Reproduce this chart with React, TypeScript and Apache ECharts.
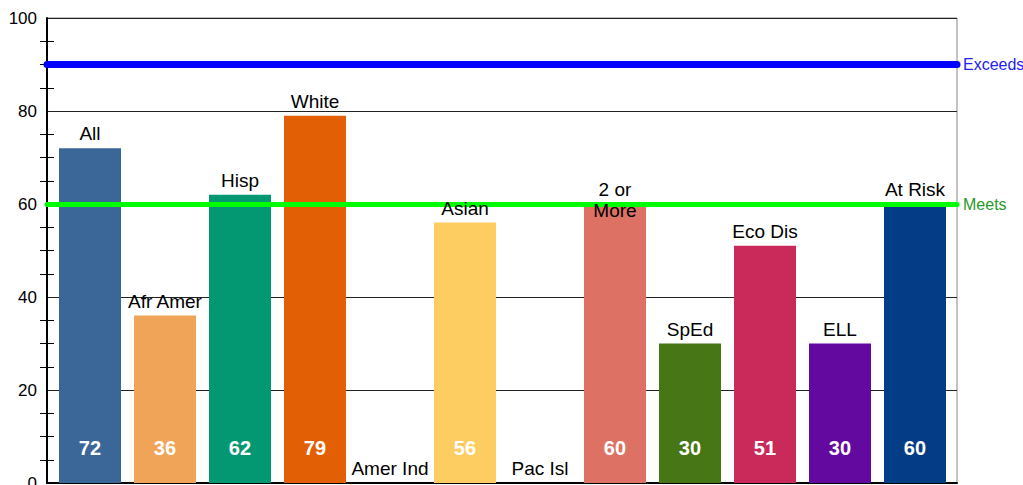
import React, { useEffect, useRef } from "react";
import * as echarts from "echarts";

const categories = ["All", "Afr Amer", "Hisp", "White", "Amer Ind", "Asian", "Pac Isl", "2 or\nMore", "SpEd", "Eco Dis", "ELL", "At Risk"];
const values = [72, 36, 62, 79, 0, 56, 0, 60, 30, 51, 30, 60];
const colors = ["#3b6698", "#f0a458", "#049872", "#e35f05", "#888888", "#fdcd61", "#888888", "#dd7264", "#477616", "#c92a5a", "#63099f", "#043c86"];
const yTicks = [0, 20, 40, 60, 80, 100];
const targets = [
  { name: "Exceeds", value: 90 },
  { name: "Meets", value: 60 },
];

const FONT = "'Liberation Sans', Arial, sans-serif";
const LABEL_LINE = 21;

export default function App() {
  const ref = useRef<HTMLDivElement>(null);
  useEffect(() => {
    if (!ref.current) return;
    const chart = echarts.init(ref.current, undefined, { renderer: "svg" });
    const yMin = yTicks[0];
    const yMax = yTicks[yTicks.length - 1];
    const yStep = yTicks[1] - yTicks[0];
    chart.setOption({
      animation: false,
      textStyle: { fontFamily: FONT },
      grid: {
        left: 47,
        right: 66,
        top: 18,
        bottom: 2,
        outerBoundsMode: "none",
        containLabel: false,
        show: true,
        borderColor: "#888",
        borderWidth: 1,
      },
      xAxis: {
        type: "value",
        min: -0.5733,
        max: categories.length - 0.5 + 0.06,
        axisLine: { show: true, onZero: false, lineStyle: { color: "#000", width: 2 } },
        axisTick: { show: false },
        axisLabel: { show: false },
        splitLine: { show: false },
      },
      yAxis: [
        {
          type: "value",
          position: "left",
          min: yMin,
          max: yMax,
          interval: yStep,
          axisLine: { show: true, onZero: false, lineStyle: { color: "#000", width: 2 } },
          axisTick: { show: false },
          minorTick: { show: true, splitNumber: 4, length: 7, lineStyle: { color: "#000", width: 1 } },
          axisLabel: { color: "#000", fontSize: 17, margin: 10, fontFamily: FONT },
          splitLine: { show: true, lineStyle: { color: "#222", width: 1 } },
        },
        {
          type: "value",
          position: "left",
          min: yMin,
          max: yMax,
          interval: yStep,
          axisLine: { show: false, onZero: false },
          axisTick: { show: false, inside: true },
          minorTick: { show: true, splitNumber: 4, length: 7, lineStyle: { color: "#000", width: 1 } },
          axisLabel: { show: false },
          splitLine: { show: false },
        },
      ],
      series: [
        {
          type: "bar",
          yAxisIndex: 0,
          barWidth: 62,
          z: 2,
          data: values.map((v, i) => ({ value: [i, v], itemStyle: { color: colors[i] } })),
        },
        {
          type: "scatter",
          yAxisIndex: 0,
          symbolSize: 0,
          clip: false,
          z: 5,
          itemStyle: { opacity: 1 },
          data: values.map((v, i) => [i, 0]),
          label: {
            show: true,
            position: "top",
            distance: 25,
            color: "#ffffff",
            opacity: 1,
            fontSize: 20,
            fontWeight: "bold",
            fontFamily: FONT,
            formatter: (p: any) => (values[p.dataIndex] > 0 ? String(values[p.dataIndex]) : ""),
          },
          markLine: {
            silent: true,
            symbol: "none",
            data: targets.map((t, i) => ({
              yAxis: t.value,
              lineStyle: {
                color: i === 0 ? "#0000ff" : "#00ff00",
                width: i === 0 ? 7 : 5,
                type: "solid",
                cap: "round",
              },
              label: {
                show: true,
                position: "end",
                distance: 6,
                formatter: t.name,
                color: i === 0 ? "#2323f0" : "#2a9a2a",
                fontSize: 16,
                fontFamily: FONT,
              },
            })),
          },
        },
        {
          type: "scatter",
          yAxisIndex: 0,
          symbolSize: 0,
          clip: false,
          z: 6,
          itemStyle: { opacity: 1 },
          data: values.map((v, i) => {
            const lines = categories[i].split("\n").length;
            return {
              value: [i, v],
              label: { distance: 4 - (lines - 1) * LABEL_LINE },
            };
          }),
          label: {
            show: true,
            position: "top",
            distance: 4,
            color: "#000",
            opacity: 1,
            fontSize: 19,
            lineHeight: LABEL_LINE,
            fontFamily: FONT,
            formatter: (p: any) => categories[p.dataIndex],
          },
        },
      ],
    });
    return () => chart.dispose();
  }, []);
  return <div ref={ref} style={{ width: 1023, height: 485, position: "absolute", left: 0, top: 0 }} />;
}
